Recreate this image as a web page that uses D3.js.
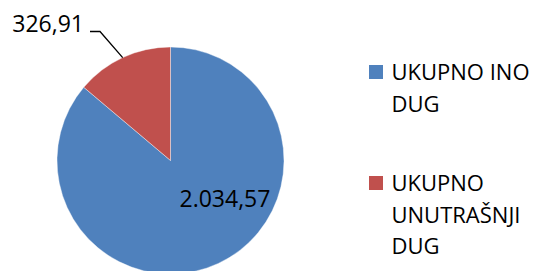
<!DOCTYPE html>
<html><head><meta charset="utf-8">
<script src="https://cdn.jsdelivr.net/npm/d3@7"></script>
<style>body{margin:0;background:#fff}svg{display:block}</style>
</head><body>
<svg id="c" width="537" height="271"></svg>
<script>
const categories = ["UKUPNO INO DUG", "UKUPNO UNUTRAŠNJI DUG"];
const values = [2034.57, 326.91];
const colors = ["#4F81BD", "#C0504D"];

const W = 537, H = 271;
const svg = d3.select("#c");
const font = "'Open Sans', sans-serif";
const fmt = d3.formatLocale({decimal: ",", thousands: ".", grouping: [3], currency: ["", ""]}).format(",.2f");

const cx = 170.5, cy = 160.5, r = 113.5;
const pie = d3.pie().sort(null).value(d => d)(values);
const arc = d3.arc().innerRadius(0).outerRadius(r);
const g = svg.append("g").attr("transform", `translate(${cx},${cy})`);
g.selectAll("path").data(pie).join("path")
  .attr("d", arc).attr("fill", (d, i) => colors[i])
  .attr("stroke", "#fff").attr("stroke-width", 0.4);

// label inside blue slice
g.append("text").text(fmt(values[0]))
  .attr("x", 179.5 - cx).attr("y", 206.7 - cy)
  .attr("font-family", font).attr("font-size", 23).attr("fill", "#000");

// red label with leader
const a = (pie[1].startAngle + pie[1].endAngle) / 2;
const ex = r * Math.sin(a), ey = -r * Math.cos(a);
svg.append("text").text(fmt(values[1]))
  .attr("x", 84).attr("y", 31.7).attr("text-anchor", "end")
  .attr("font-family", font).attr("font-size", 23).attr("fill", "#000");
svg.append("polyline")
  .attr("points", `90,31.5 100,31.5 ${cx + ex},${cy + ey}`)
  .attr("fill", "none").attr("stroke", "#000").attr("stroke-width", 1.3);

// legend
const lx = 369, tx = 391.5, maxW = 150;
const firstBase = [80, 191];
const lineH = 31.5;
categories.forEach((c, i) => {
  const t = svg.append("text").attr("font-family", font).attr("font-size", 22).attr("fill", "#000");
  const words = c.split(" ");
  let lines = [], cur = "";
  words.forEach(w => {
    const test = cur ? cur + " " + w : w;
    t.text(test);
    if (t.node().getComputedTextLength() > maxW && cur) { lines.push(cur); cur = w; } else cur = test;
  });
  lines.push(cur);
  t.text(null);
  lines.forEach((l, j) => t.append("tspan").attr("x", tx).attr("y", firstBase[i] + j * lineH).text(l));
  svg.append("rect").attr("x", lx).attr("y", firstBase[i] - 15).attr("width", 14).attr("height", 14)
    .attr("fill", colors[i]);
});
</script>
</body></html>
